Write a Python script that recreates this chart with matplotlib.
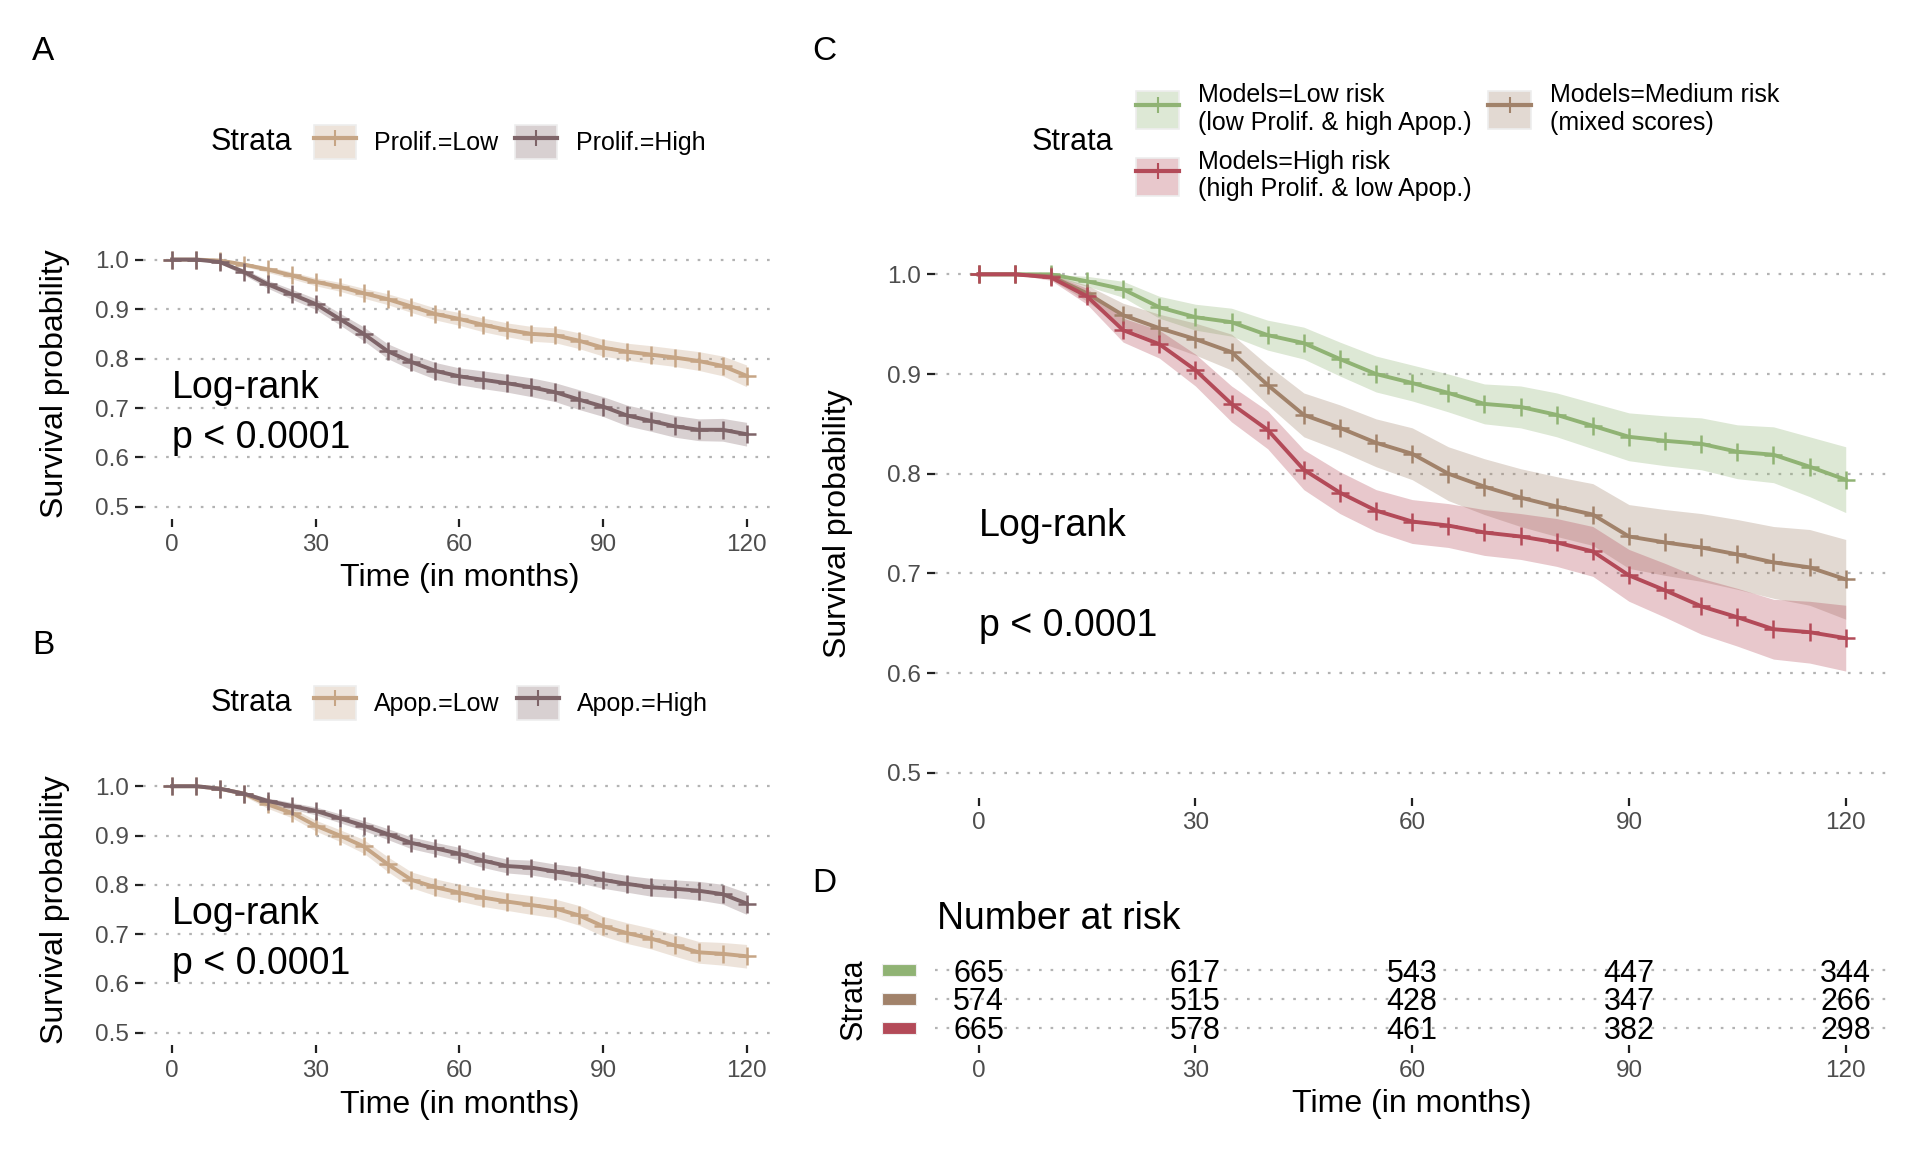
import numpy as np
import matplotlib.pyplot as plt
from matplotlib.patches import Patch, Rectangle
from matplotlib.lines import Line2D
from matplotlib.legend_handler import HandlerTuple
from matplotlib.colors import to_rgba
from matplotlib.ticker import FormatStrFormatter
from matplotlib.transforms import blended_transform_factory

plt.rcParams['font.family'] = ['Liberation Sans', 'DejaVu Sans']

months = [0, 5, 10, 15, 20, 25, 30, 35, 40, 45, 50, 55, 60,
          65, 70, 75, 80, 85, 90, 95, 100, 105, 110, 115, 120]
tick_months = [0, 30, 60, 90, 120]

# panel A: proliferation score
prolif_low = [1.0, 1.0, 0.998, 0.99, 0.98, 0.968, 0.955, 0.945, 0.932, 0.92, 0.905, 0.89, 0.88,
              0.868, 0.858, 0.85, 0.847, 0.836, 0.822, 0.814, 0.808, 0.802, 0.795, 0.785, 0.765]
prolif_low_hw = [0, 0, 0.002, 0.004, 0.006, 0.007, 0.008, 0.009, 0.01, 0.011, 0.012, 0.012, 0.013,
                 0.014, 0.014, 0.015, 0.015, 0.016, 0.017, 0.017, 0.018, 0.018, 0.019, 0.02, 0.022]
prolif_high = [1.0, 1.0, 0.995, 0.975, 0.95, 0.93, 0.91, 0.88, 0.85, 0.815, 0.793, 0.775, 0.764,
               0.757, 0.75, 0.742, 0.732, 0.717, 0.703, 0.685, 0.674, 0.663, 0.656, 0.656, 0.647]
prolif_high_hw = [0, 0, 0.003, 0.006, 0.008, 0.01, 0.011, 0.012, 0.014, 0.015, 0.016, 0.017, 0.017,
                  0.018, 0.018, 0.019, 0.019, 0.02, 0.02, 0.021, 0.021, 0.022, 0.022, 0.023, 0.024]

# panel B: apoptosis score
apop_low = [1.0, 1.0, 0.995, 0.985, 0.963, 0.946, 0.92, 0.9, 0.878, 0.842, 0.81, 0.795, 0.784,
            0.774, 0.766, 0.759, 0.752, 0.738, 0.716, 0.702, 0.691, 0.677, 0.663, 0.66, 0.655]
apop_low_hw = [0, 0, 0.003, 0.005, 0.008, 0.01, 0.011, 0.012, 0.014, 0.015, 0.016, 0.017, 0.017,
               0.018, 0.018, 0.019, 0.019, 0.02, 0.02, 0.021, 0.021, 0.022, 0.022, 0.023, 0.024]
apop_high = [1.0, 1.0, 0.995, 0.985, 0.97, 0.96, 0.95, 0.935, 0.92, 0.903, 0.885, 0.874, 0.863,
             0.849, 0.838, 0.835, 0.827, 0.82, 0.81, 0.802, 0.795, 0.792, 0.788, 0.781, 0.762]
apop_high_hw = [0, 0, 0.002, 0.004, 0.006, 0.007, 0.008, 0.009, 0.01, 0.011, 0.012, 0.012, 0.013,
                0.014, 0.014, 0.015, 0.015, 0.016, 0.017, 0.017, 0.018, 0.018, 0.019, 0.02, 0.022]

# panel C: combined model
low_risk = [1.0, 1.0, 1.0, 0.993, 0.985, 0.967, 0.957, 0.952, 0.939, 0.931, 0.915, 0.9, 0.891,
            0.881, 0.87, 0.867, 0.859, 0.848, 0.837, 0.833, 0.83, 0.822, 0.819, 0.807, 0.794]
low_risk_hw = [0, 0, 0.002, 0.005, 0.008, 0.011, 0.013, 0.014, 0.015, 0.016, 0.017, 0.018, 0.018,
               0.019, 0.02, 0.021, 0.022, 0.023, 0.024, 0.025, 0.026, 0.027, 0.028, 0.03, 0.033]
medium_risk = [1.0, 1.0, 0.998, 0.981, 0.959, 0.946, 0.935, 0.922, 0.889, 0.859, 0.846, 0.831, 0.82,
               0.8, 0.787, 0.776, 0.767, 0.759, 0.737, 0.731, 0.726, 0.719, 0.711, 0.706, 0.694]
medium_risk_hw = [0, 0, 0.003, 0.008, 0.012, 0.014, 0.016, 0.018, 0.02, 0.022, 0.023, 0.024, 0.026,
                  0.027, 0.028, 0.029, 0.03, 0.031, 0.032, 0.033, 0.034, 0.035, 0.036, 0.038, 0.04]
high_risk = [1.0, 1.0, 0.997, 0.978, 0.944, 0.93, 0.904, 0.87, 0.844, 0.804, 0.781, 0.763, 0.752,
             0.748, 0.741, 0.737, 0.731, 0.722, 0.698, 0.683, 0.667, 0.656, 0.644, 0.641, 0.635]
high_risk_hw = [0, 0, 0.003, 0.008, 0.012, 0.014, 0.016, 0.018, 0.019, 0.02, 0.021, 0.021, 0.022,
                0.022, 0.023, 0.023, 0.024, 0.025, 0.026, 0.027, 0.028, 0.029, 0.03, 0.031, 0.033]

# panel D: number at risk
risk_low = [665, 617, 543, 447, 344]
risk_medium = [574, 515, 428, 347, 266]
risk_high = [665, 578, 461, 382, 298]

TAN = '#C6A585'
MAUVE = '#7E6468'
GREEN = '#90B374'
BROWN = '#A1826A'
RED = '#B34A58'

GRID = dict(color='#B3B3B3', lw=1.6, linestyle=(0, (1.2, 4)))


def style_axes(ax):
    for s in ax.spines.values():
        s.set_visible(False)
    ax.set_xlim(-6, 126)
    ax.set_xticks(tick_months)
    ax.tick_params(axis='both', length=5.5, width=1.6, color='#222222',
                   labelsize=17.5, labelcolor='#4D4D4D', pad=5)
    ax.yaxis.grid(True, **GRID)
    ax.set_axisbelow(True)


def km_panel(ax, curves):
    style_axes(ax)
    for surv, hw, color in curves:
        s = np.asarray(surv)
        h = np.asarray(hw)
        ax.fill_between(months, s - h, np.minimum(s + h, 1.0), color=color, alpha=0.3, lw=0)
    for surv, hw, color in curves:
        ax.plot(months, surv, color=color, lw=2.8, marker='+', ms=13, mew=1.8)
    ax.set_ylim(0.475, 1.025)
    ax.set_yticks([0.5, 0.6, 0.7, 0.8, 0.9, 1.0])
    ax.yaxis.set_major_formatter(FormatStrFormatter('%.1f'))


def strata_legend(fig, colors, labels, x, y, ncol, hl, hh, spacing):
    handles = [(Patch(facecolor=to_rgba(c, 0.3), edgecolor='#EEEEEE', lw=1.2),
                Line2D([], [], color=c, lw=3, marker='+', ms=12, mew=1.5)) for c in colors]
    fig.legend(handles, labels, loc='center left', bbox_to_anchor=(x, y), ncol=ncol,
               frameon=False, fontsize=18, handlelength=hl, handleheight=hh,
               handletextpad=0.74, columnspacing=0.68, labelspacing=spacing,
               borderpad=0, borderaxespad=0,
               handler_map={tuple: HandlerTuple(ndivide=1, pad=0)})


fig = plt.figure(figsize=(19.2, 11.52), dpi=100)

# ---- A ----
axA = fig.add_axes([0.0747, 0.5492, 0.3291, 0.2362])
km_panel(axA, [(prolif_low, prolif_low_hw, TAN), (prolif_high, prolif_high_hw, MAUVE)])
axA.set_xlabel('Time (in months)', fontsize=23)
axA.xaxis.set_label_coords(0.5, -0.2157)
axA.xaxis.label.set_va('center')
axA.set_ylabel('Survival probability', fontsize=23)
axA.yaxis.set_label_coords(-0.1156, 0.5)
axA.text(0, 0.74, 'Log-rank', fontsize=27, va='center')
axA.text(0, 0.64, 'p < 0.0001', fontsize=27, va='center')
fig.text(0.1097, 0.8767, 'Strata', fontsize=22, va='center')
strata_legend(fig, [TAN, MAUVE], ['Prolif.=Low', 'Prolif.=High'], 0.1633, 0.8767, 2, 1.68, 1.72, 0.5)

# ---- B ----
axB = fig.add_axes([0.0747, 0.0929, 0.3291, 0.2353])
km_panel(axB, [(apop_low, apop_low_hw, TAN), (apop_high, apop_high_hw, MAUVE)])
axB.set_xlabel('Time (in months)', fontsize=23)
axB.xaxis.set_label_coords(0.5, -0.2196)
axB.xaxis.label.set_va('center')
axB.set_ylabel('Survival probability', fontsize=23)
axB.yaxis.set_label_coords(-0.1156, 0.5)
axB.text(0, 0.74, 'Log-rank', fontsize=27, va='center')
axB.text(0, 0.64, 'p < 0.0001', fontsize=27, va='center')
fig.text(0.1097, 0.3898, 'Strata', fontsize=22, va='center')
strata_legend(fig, [TAN, MAUVE], ['Apop.=Low', 'Apop.=High'], 0.1633, 0.3898, 2, 1.68, 1.72, 0.5)

# ---- C ----
axC = fig.add_axes([0.4871, 0.3076, 0.4968, 0.4759])
km_panel(axC, [(low_risk, low_risk_hw, GREEN), (medium_risk, medium_risk_hw, BROWN),
               (high_risk, high_risk_hw, RED)])
axC.set_ylabel('Survival probability', fontsize=23)
axC.yaxis.set_label_coords(-0.0857, 0.5)
axC.text(0, 0.748, 'Log-rank', fontsize=27, va='center')
axC.text(0, 0.647, 'p < 0.0001', fontsize=27, va='center')
fig.text(0.5375, 0.8767, 'Strata', fontsize=22, va='center')
strata_legend(fig, [GREEN, RED, BROWN],
              ['Models=Low risk\n(low Prolif. & high Apop.)',
               'Models=High risk\n(high Prolif. & low Apop.)',
               'Models=Medium risk\n(mixed scores)'],
              0.5918, 0.8767, 2, 1.72, 1.96, 0.6)

# ---- D: risk table ----
axD = fig.add_axes([0.4871, 0.0929, 0.4968, 0.0801])
style_axes(axD)
axD.set_ylim(2.6, -0.6)
axD.set_yticks([0, 1, 2])
axD.tick_params(axis='y', length=0, labelleft=False)
trans = blended_transform_factory(axD.transAxes, axD.transData)
for row, (counts, color) in enumerate([(risk_low, GREEN), (risk_medium, BROWN), (risk_high, RED)]):
    for t, n in zip(tick_months, counts):
        axD.text(t, row, str(n), fontsize=22, ha='center', va='center_baseline')
    axD.add_patch(Rectangle((-0.0562, row - 0.21), 0.036, 0.42, transform=trans,
                            facecolor=color, edgecolor='#EEEEEE', lw=0.8, clip_on=False))
axD.text(-0.0857, 1, 'Strata', rotation=90, fontsize=22, ha='center', va='center', transform=trans)
axD.text(0.002, 1.36, 'Number at risk', fontsize=27, ha='left', va='center', transform=axD.transAxes)
axD.set_xlabel('Time (in months)', fontsize=23)
axD.xaxis.set_label_coords(0.5, -0.645)
axD.xaxis.label.set_va('center')

# panel letters
for letter, x, y in [('A', 43, 51), ('B', 43, 646), ('C', 824, 51), ('D', 824, 884)]:
    fig.text(x / 1920, 1 - y / 1152, letter, fontsize=24, ha='center', va='center')

fig.savefig('out.png', dpi=100)
